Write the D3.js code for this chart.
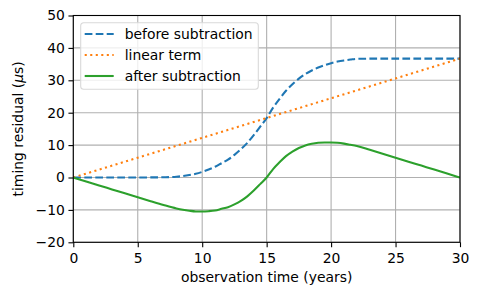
<!DOCTYPE html>
<html>
<head>
<meta charset="utf-8">
<script src="https://cdn.jsdelivr.net/npm/d3@7"></script>
<style>
  body { margin: 0; background: #fff; }
  text { font-family: "DejaVu Sans", sans-serif; fill: #000; }
</style>
</head>
<body>
<div id="chart"></div>
<script>
// Values
const years = [0, 1, 2, 3, 4, 5, 6, 7, 8, 8.5, 9, 9.5, 10, 10.5, 11, 11.5, 12, 12.5, 13, 13.5, 14, 14.5, 15,
               15.5, 16, 16.5, 17, 17.5, 18, 18.5, 19, 19.5, 20, 20.5, 21, 21.5, 22, 23, 24, 25, 26, 27, 28, 29, 30];
const beforeSub = [0, 0, 0, 0, 0, 0.01, 0.03, 0.08, 0.25, 0.45, 0.75, 1.15, 1.73, 2.45, 3.3, 4.4, 5.5, 7.0, 8.7, 10.7, 13.1, 15.7, 18.35,
                   21.56, 24.27, 26.78, 28.8, 30.51, 31.92, 33.03, 33.94, 34.65, 35.27, 35.78, 36.14, 36.4, 36.62, 36.68, 36.7, 36.7, 36.7, 36.7, 36.7, 36.7, 36.7];
const linearYears = [0, 30];
const linearTerm = [0, 36.7];
const afterSub = [0, -1.22, -2.45, -3.67, -4.89, -6.11, -7.31, -8.48, -9.54, -9.95, -10.26, -10.47, -10.5, -10.39, -10.16, -9.67, -9.18, -8.29, -7.2, -5.81, -4.03, -2.04, 0,
                  2.6, 4.7, 6.6, 8.0, 9.1, 9.9, 10.4, 10.7, 10.8, 10.8, 10.7, 10.45, 10.1, 9.71, 8.54, 7.34, 6.12, 4.89, 3.67, 2.45, 1.22, 0];
const xTicks = [0, 5, 10, 15, 20, 25, 30];
const yTicks = [-20, -10, 0, 10, 20, 30, 40, 50];
const seriesNames = ['before subtraction', 'linear term', 'after subtraction'];

const W = 479, H = 295;
const margin = { top: 15.5, right: 19, bottom: 52.7, left: 73.3 };
const width = W - margin.left - margin.right;
const height = H - margin.top - margin.bottom;
const fs = 13.9;

const svg = d3.select('#chart').append('svg')
    .attr('width', W)
    .attr('height', H);
const g = svg.append('g')
    .attr('transform', `translate(${margin.left},${margin.top})`);

const x = d3.scaleLinear().domain([0, 30]).range([0, width]);
const y = d3.scaleLinear().domain([-20, 50]).range([height, 0]);

// grid
g.selectAll('.gx').data(xTicks).enter().append('line')
    .attr('x1', d => x(d)).attr('x2', d => x(d))
    .attr('y1', 0).attr('y2', height)
    .attr('stroke', '#b0b0b0').attr('stroke-width', 1.1);
g.selectAll('.gy').data(yTicks).enter().append('line')
    .attr('y1', d => y(d)).attr('y2', d => y(d))
    .attr('x1', 0).attr('x2', width)
    .attr('stroke', '#b0b0b0').attr('stroke-width', 1.1);

// axes
const xAxis = g.append('g')
    .attr('transform', `translate(0,${height})`)
    .call(d3.axisBottom(x).tickValues(xTicks).tickSize(4.86).tickPadding(6.3).tickFormat(d3.format('d')));
const yAxis = g.append('g')
    .call(d3.axisLeft(y).tickValues(yTicks).tickSize(4.86).tickPadding(3.5)
        .tickFormat(d => d < 0 ? '\u2212' + Math.abs(d) : d));
[xAxis, yAxis].forEach(a => {
    a.select('.domain').remove();
    a.selectAll('line').attr('stroke', '#000').attr('stroke-width', 1.1);
    a.selectAll('text').attr('font-size', fs).attr('font-family', '"DejaVu Sans", sans-serif').attr('fill', '#000');
});

// lines
svg.append('clipPath').attr('id', 'clip').append('rect')
    .attr('width', width).attr('height', height);
const lineGen = d3.line().x(d => x(d[0])).y(d => y(d[1])).curve(d3.curveMonotoneX);
const plot = g.append('g').attr('clip-path', 'url(#clip)');

const colors = ['#1f77b4', '#ff7f0e', '#2ca02c'];
const dashes = ['7.7,3.3', '2.08,3.44', null];

plot.append('path')
    .datum(years.map((t, i) => [t, beforeSub[i]]))
    .attr('d', lineGen)
    .attr('fill', 'none').attr('stroke', colors[0]).attr('stroke-width', 2.08)
    .attr('stroke-dasharray', dashes[0]);
plot.append('path')
    .datum(linearYears.map((t, i) => [t, linearTerm[i]]))
    .attr('d', lineGen)
    .attr('fill', 'none').attr('stroke', colors[1]).attr('stroke-width', 2.08)
    .attr('stroke-dasharray', dashes[1]);
plot.append('path')
    .datum(years.map((t, i) => [t, afterSub[i]]))
    .attr('d', lineGen)
    .attr('fill', 'none').attr('stroke', colors[2]).attr('stroke-width', 2.08);

// spines
g.append('rect')
    .attr('width', width).attr('height', height)
    .attr('fill', 'none').attr('stroke', '#000').attr('stroke-width', 1.1);

// legend
const leg = g.append('g').attr('transform', 'translate(7.4,7.2)');
leg.append('rect')
    .attr('width', 177.6).attr('height', 66.6).attr('rx', 3)
    .attr('fill', 'rgba(255,255,255,0.8)').attr('stroke', '#d9d9d9').attr('stroke-width', 1.1);
seriesNames.forEach((name, i) => {
    const yy = 11.3 + i * 21;
    leg.append('line')
        .attr('x1', 4).attr('x2', 33).attr('y1', yy).attr('y2', yy)
        .attr('stroke', colors[i]).attr('stroke-width', 2.08)
        .attr('stroke-dasharray', dashes[i]);
    leg.append('text')
        .attr('x', 44).attr('y', yy).attr('dy', '0.35em')
        .attr('font-size', fs).text(name);
});

// axis labels
svg.append('text')
    .attr('x', margin.left + width / 2).attr('y', 282)
    .attr('text-anchor', 'middle').attr('font-size', fs)
    .text('observation time (years)');
const yl = svg.append('text')
    .attr('transform', `translate(23,${margin.top + height / 2}) rotate(-90)`)
    .attr('text-anchor', 'middle').attr('font-size', fs);
yl.append('tspan').text('timing residual (');
yl.append('tspan').attr('font-style', 'italic').text('\u03bc');
yl.append('tspan').text('s)');
</script>
</body>
</html>
